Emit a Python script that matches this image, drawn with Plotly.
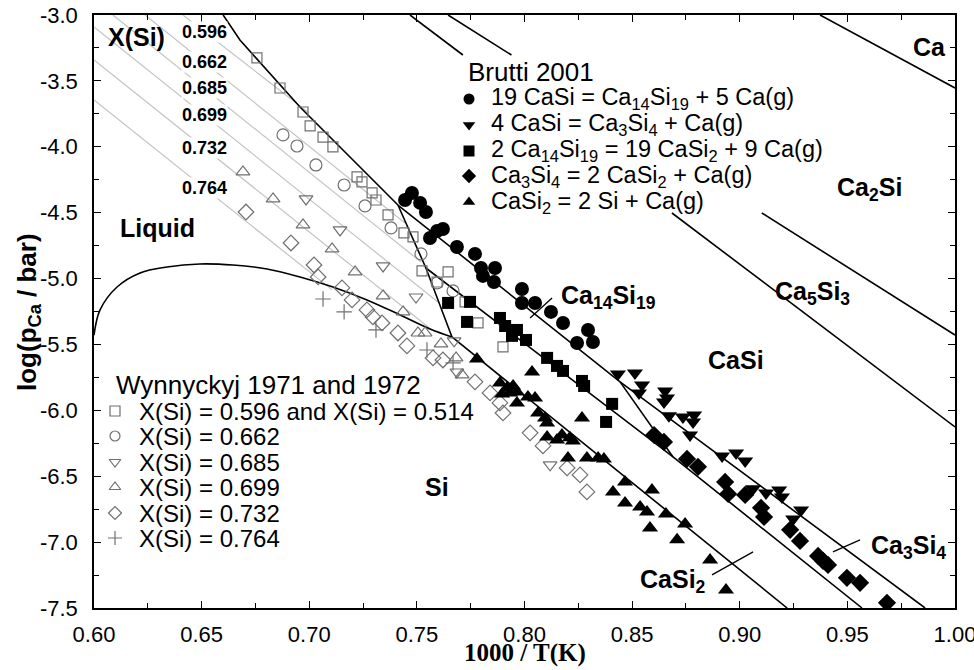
import plotly.graph_objects as go

# ---------------- data (1000/T, log p_Ca) ----------------
# Wynnyckyj 1971/1972 (open symbols)
w596_x = [0.6757,0.6864,0.6971,0.7004,0.7064,0.7110,0.7222,0.7245,0.7292,0.7310,0.7366,0.7440,0.7482,0.7524,0.7645,0.7594,0.7724,0.7784,0.7900]
w596_y = [-3.326,-3.554,-3.736,-3.842,-3.926,-4.001,-4.229,-4.267,-4.350,-4.404,-4.517,-4.654,-4.684,-4.942,-4.950,-5.026,-5.177,-5.337,-5.519]
w662_x = [0.6878,0.6943,0.7031,0.7162,0.7259,0.7380,0.7519,0.7594,0.7668]
w662_y = [-3.910,-3.994,-4.138,-4.290,-4.449,-4.616,-4.813,-5.033,-5.094]
w685_x = [0.6985,0.7143,0.7343,0.7496,0.7673,0.7686,0.8119]
w685_y = [-4.396,-4.631,-4.904,-5.140,-5.473,-5.709,-6.414]
w699_x = [0.6692,0.6832,0.6971,0.7106,0.7213,0.7343,0.7436,0.7505,0.7538,0.7612,0.7682,0.7710]
w699_y = [-4.191,-4.396,-4.593,-4.775,-4.950,-5.132,-5.253,-5.413,-5.413,-5.496,-5.602,-5.731]
w732_x = [0.6706,0.6915,0.7022,0.7041,0.7152,0.7199,0.7268,0.7296,0.7338,0.7412,0.7454,0.7575,0.7621,0.7770,0.7840,0.7886,0.7900,0.8026,0.8086,0.8198,0.8258,0.8290]
w732_y = [-4.495,-4.730,-4.897,-4.988,-5.071,-5.162,-5.238,-5.291,-5.337,-5.413,-5.511,-5.602,-5.618,-5.784,-5.868,-5.944,-6.020,-6.171,-6.270,-6.437,-6.490,-6.619]
w764_x = [0.7064,0.7162,0.7310,0.7547,0.7668]
w764_y = [-5.155,-5.253,-5.390,-5.542,-5.640]

# Brutti 2001 (filled symbols)
b1_x = [0.7445,0.7477,0.7515,0.7542,0.7561,0.7594,0.7621,0.7686,0.7770,0.7798,0.7807,0.7863,0.7858,0.7988,0.7988,0.8049,0.8123,0.8179,0.8244,0.8295,0.8318]
b1_y = [-4.404,-4.351,-4.426,-4.495,-4.692,-4.639,-4.624,-4.760,-4.813,-4.920,-4.980,-4.920,-5.026,-5.079,-5.185,-5.185,-5.253,-5.337,-5.489,-5.390,-5.481]
b2_x = [0.8434,0.8513,0.8546,0.8532,0.8653,0.8662,0.8648,0.8671,0.8736,0.8788,0.8783,0.8769,0.8918,0.8983,0.9025,0.9062,0.9122,0.9183,0.9196,0.9285,0.9248]
b2_y = [-5.724,-5.716,-5.807,-5.868,-5.853,-5.906,-5.936,-6.042,-6.050,-6.035,-6.088,-6.187,-6.346,-6.323,-6.384,-6.596,-6.627,-6.604,-6.657,-6.756,-6.824]
b3_x = [0.7645,0.7747,0.7733,0.7886,0.7910,0.7942,0.7965,0.8007,0.8105,0.8151,0.8179,0.8267,0.8277,0.8407,0.8379]
b3_y = [-5.185,-5.177,-5.329,-5.299,-5.360,-5.435,-5.390,-5.466,-5.602,-5.663,-5.701,-5.777,-5.815,-5.951,-6.088]
b4_x = [0.8602,0.8648,0.8755,0.8806,0.8932,0.8946,0.9025,0.9099,0.9113,0.9234,0.9280,0.9364,0.9387,0.9410,0.9498,0.9559,0.9684]
b4_y = [-6.187,-6.240,-6.369,-6.429,-6.543,-6.634,-6.642,-6.740,-6.809,-6.907,-6.991,-7.105,-7.142,-7.173,-7.271,-7.309,-7.461]
b5_x = [0.7779,0.8035,0.7886,0.7919,0.7947,0.7965,0.7933,0.7896,0.7965,0.8016,0.8049,0.8063,0.8095,0.8105,0.8267,0.8105,0.8151,0.8174,0.8211,0.8225,0.8202,0.8290,0.8342,0.8369,0.8467,0.8411,0.8592,0.8467,0.8537,0.8569,0.8657,0.8583,0.8746,0.8709,0.8862,0.8936]
b5_y = [-5.610,-5.709,-5.792,-5.830,-5.815,-5.860,-5.868,-5.876,-5.944,-5.898,-5.906,-6.020,-6.058,-6.096,-6.058,-6.202,-6.225,-6.187,-6.209,-6.232,-6.361,-6.361,-6.361,-6.369,-6.543,-6.619,-6.604,-6.703,-6.733,-6.771,-6.786,-6.892,-6.862,-6.983,-7.135,-7.363]

# calculated phase boundaries
liq_casi_x = [0.6600,0.6678,0.6957,0.7296,0.7412]
liq_casi_y = [-3.0,-3.190,-3.698,-4.252,-4.442]
liq_steep_x = [0.7412,0.7542,0.7663]
liq_steep_y = [-4.442,-4.920,-5.443]
liq_si_x = [0.6000,0.6028,0.6107,0.6214,0.6339,0.6492,0.6646,0.6804,0.6957,0.7110,0.7268,0.7422,0.7561,0.7663]
liq_si_y = [-5.430,-5.238,-5.064,-4.957,-4.912,-4.889,-4.897,-4.927,-4.988,-5.064,-5.162,-5.276,-5.382,-5.443]
upper_x = [0.7412,0.8444,0.9861]
upper_y = [-4.442,-5.784,-7.500]
middle_x = [0.7542,0.8690,0.9568]
middle_y = [-4.920,-6.354,-7.500]
step_x = [0.8444,0.8690]
step_y = [-5.784,-6.354]
lower_x = [0.7663,0.9220]
lower_y = [-5.443,-7.500]
ca_x = [0.9373,1.0]
ca_y = [-3.0,-3.554]
ca2si_x = [0.7645,1.0]
ca2si_y = [-3.0,-5.428]
ca5si3_x = [0.7468,1.0]
ca5si3_y = [-3.0,-6.126]

# iso-composition lines in the liquid
iso_labels = ["0.596","0.662","0.685","0.699","0.732","0.764"]
iso_x0 = [0.6413,0.6237,0.6088,0.6000,0.6000,0.6000]
iso_y0 = [-3.000,-3.000,-3.000,-3.091,-3.341,-3.645]
iso_x1 = [0.6999,0.7445,0.7519,0.7598,0.7570,0.7106]
iso_y1 = [-3.744,-4.578,-4.874,-5.178,-5.390,-5.086]

x_ticks = [0.60,0.65,0.70,0.75,0.80,0.85,0.90,0.95,1.00]
x_ticktext = ["0.60","0.65","0.70","0.75","0.80","0.85","0.90","0.95","1.00"]
y_ticks = [-3.0,-3.5,-4.0,-4.5,-5.0,-5.5,-6.0,-6.5,-7.0,-7.5]
y_ticktext = ["-3.0","-3.5","-4.0","-4.5","-5.0","-5.5","-6.0","-6.5","-7.0","-7.5"]

# ---------------- layout helpers ----------------
W, H = 974, 670
ML, MR, MT, MB = 94, 19, 15, 62
PW, PH = W - ML - MR, H - MT - MB

def pxx(x):
    return (x - ML) / PW

def pxy(y):
    return (H - MB - y) / PH

SANS = "Liberation Sans, Arial, sans-serif"
SERIF = "Liberation Serif, Times New Roman, serif"
GRAY = "#707070"

fig = go.Figure()

# iso lines
for lab_, a, b, c, d in zip(iso_labels, iso_x0, iso_y0, iso_x1, iso_y1):
    fig.add_trace(go.Scatter(x=[a, c], y=[b, d], mode="lines",
                             line=dict(color="#c4c4c4", width=1.2),
                             showlegend=False, hoverinfo="skip"))

# the Brutti legend box hides the middle of two lines (pixel rows of its top/bottom)
BOX_TOP, BOX_BOT = 55, 213

def y_of_px(p):
    return -3.0 - (p - MT) / PH * 4.5

def split_line(xs, ys):
    (x0, x1), (y0, y1) = xs, ys
    out_x, out_y = [x0], [y0]
    for p in (BOX_TOP, BOX_BOT):
        yy = y_of_px(p)
        xx = x0 + (yy - y0) / (y1 - y0) * (x1 - x0)
        out_x.append(xx)
        out_y.append(yy)
        if p == BOX_TOP:
            out_x.append(None)
            out_y.append(None)
    out_x.append(x1)
    out_y.append(y1)
    return out_x, out_y

bl = dict(color="black", width=1.6)
for xs, ys in [(liq_casi_x, liq_casi_y), (liq_steep_x, liq_steep_y),
               (upper_x, upper_y), (middle_x, middle_y), (step_x, step_y),
               (lower_x, lower_y), (ca_x, ca_y)]:
    fig.add_trace(go.Scatter(x=xs, y=ys, mode="lines", line=bl,
                             showlegend=False, hoverinfo="skip"))
fig.add_trace(go.Scatter(x=liq_si_x, y=liq_si_y, mode="lines",
                         line=dict(color="black", width=1.6, shape="spline", smoothing=1.0),
                         showlegend=False, hoverinfo="skip"))
for xs, ys in [(ca2si_x, ca2si_y), (ca5si3_x, ca5si3_y)]:
    sx, sy = split_line(xs, ys)
    fig.add_trace(go.Scatter(x=sx, y=sy, mode="lines", line=bl,
                             showlegend=False, hoverinfo="skip"))

open_series = [
    (w596_x, w596_y, "square-open", 10, "X(Si) = 0.596 and X(Si) = 0.514"),
    (w662_x, w662_y, "circle-open", 12, "X(Si) = 0.662"),
    (w685_x, w685_y, "triangle-down-open", 12, "X(Si) = 0.685"),
    (w699_x, w699_y, "triangle-up-open", 12, "X(Si) = 0.699"),
    (w732_x, w732_y, "diamond-open", 12, "X(Si) = 0.732"),
    (w764_x, w764_y, "cross-thin-open", 11, "X(Si) = 0.764"),
]
filled_series = [
    (b1_x, b1_y, "circle", 14, "19 CaSi = Ca<sub>14</sub>Si<sub>19</sub> + 5 Ca(g)"),
    (b2_x, b2_y, "triangle-down", 14, "4 CaSi = Ca<sub>3</sub>Si<sub>4</sub> + Ca(g)"),
    (b3_x, b3_y, "square", 12, "2 Ca<sub>14</sub>Si<sub>19</sub> = 19 CaSi<sub>2</sub> + 9 Ca(g)"),
    (b4_x, b4_y, "diamond", 14, "Ca<sub>3</sub>Si<sub>4</sub> = 2 CaSi<sub>2</sub> + Ca(g)"),
    (b5_x, b5_y, "triangle-up", 14, "CaSi<sub>2</sub> = 2 Si + Ca(g)"),
]

for xs, ys, sym, sz, name in open_series:
    fig.add_trace(go.Scatter(x=xs, y=ys, mode="markers", name=name,
                             marker=dict(symbol=sym, size=sz, color=GRAY,
                                         line=dict(color=GRAY, width=1.2)),
                             showlegend=False))
for xs, ys, sym, sz, name in filled_series:
    fig.add_trace(go.Scatter(x=xs, y=ys, mode="markers", name=name,
                             marker=dict(symbol=sym, size=sz, color="black",
                                         line=dict(width=0)),
                             showlegend=False))

# ---- hand-made legends (symbols on an overlay axis in plot-fraction units) ----
ann = []
leg1_rows = [99, 125, 151, 176, 202]
for (xs, ys, sym, sz, name), r in zip(filled_series, leg1_rows):
    fig.add_trace(go.Scatter(x=[pxx(469)], y=[pxy(r)], mode="markers", xaxis="x2", yaxis="y2",
                             marker=dict(symbol=sym, size=11, color="black", line=dict(width=0)),
                             showlegend=False, hoverinfo="skip"))
    ann.append(dict(x=pxx(489), y=pxy(r), text=name, xanchor="left", yanchor="middle",
                    font=dict(size=23.5, family=SANS, color="black")))
ann.append(dict(x=pxx(466), y=pxy(72), text="Brutti 2001", xanchor="left", yanchor="middle",
                font=dict(size=26, family=SANS, color="black")))

leg2_rows = [411, 436, 462, 487, 513, 538]
for (xs, ys, sym, sz, name), r in zip(open_series, leg2_rows):
    fig.add_trace(go.Scatter(x=[pxx(115)], y=[pxy(r)], mode="markers", xaxis="x2", yaxis="y2",
                             marker=dict(symbol=sym, size=10, color=GRAY, line=dict(color=GRAY, width=1.2)),
                             showlegend=False, hoverinfo="skip"))
    ann.append(dict(x=pxx(137), y=pxy(r), text=name, xanchor="left", yanchor="middle",
                    font=dict(size=24, family=SANS, color="black")))
ann.append(dict(x=pxx(114), y=pxy(385), text="Wynnyckyj 1971 and 1972", xanchor="left", yanchor="middle",
                font=dict(size=26, family=SANS, color="black")))

# region labels
def lab(text, x, y, size=25):
    ann.append(dict(x=pxx(x), y=pxy(y), text="<b>" + text + "</b>", xanchor="center", yanchor="middle",
                    font=dict(size=size, family=SANS, color="black")))

lab("X(Si)", 136, 37)
lab("Liquid", 157, 228)
lab("Si", 437, 487)
lab("CaSi", 736, 360)
lab("Ca<sub>14</sub>Si<sub>19</sub>", 608, 297)
lab("Ca<sub>3</sub>Si<sub>4</sub>", 908, 547)
lab("CaSi<sub>2</sub>", 673, 581)
lab("Ca<sub>5</sub>Si<sub>3</sub>", 812, 293)
lab("Ca<sub>2</sub>Si", 869, 189)
lab("Ca", 929, 47)

iso_label_rows = [32, 62, 88, 115, 148, 188]
for t, r in zip(iso_labels, iso_label_rows):
    ann.append(dict(x=pxx(204), y=pxy(r), text="<b>" + t + "</b>", xanchor="center", yanchor="middle",
                    bgcolor="white", borderpad=0,
                    font=dict(size=18, family=SANS, color="black")))

# axis titles
ann.append(dict(x=pxx(28), y=pxy(312), text="<b>log(p<sub>Ca</sub> / bar)</b>", textangle=-90,
                xanchor="center", yanchor="middle", font=dict(size=26, family=SANS, color="black")))
ann.append(dict(x=pxx(525), y=pxy(669), text="<b>1000 / T(K)</b>", xanchor="center", yanchor="bottom",
                font=dict(size=25, family=SERIF, color="black")))

for a in ann:
    a.update(xref="paper", yref="paper", showarrow=False)

# pointer ticks for the narrow phase fields
shapes = []
for (x0, y0, x1, y1) in [(0.8026, -5.299, 0.8128, -5.147),
                         (0.9433, -7.074, 0.9559, -6.983),
                         (0.8871, -7.249, 0.9062, -7.074)]:
    shapes.append(dict(type="line", xref="x", yref="y", x0=x0, y0=y0, x1=x1, y1=y1,
                       line=dict(color="black", width=1.3)))

axis_common = dict(showline=True, linecolor="black", linewidth=1.6, mirror="ticks",
                   ticks="inside", ticklen=7, tickwidth=1.3, tickcolor="black",
                   showgrid=False, zeroline=False, automargin=False,
                   ticklabeloverflow="allow",
                   tickfont=dict(size=22, family=SANS, color="black"))

fig.update_layout(
    width=W, height=H,
    margin=dict(l=ML, r=MR, t=MT, b=MB, pad=0, autoexpand=False),
    paper_bgcolor="white", plot_bgcolor="white",
    showlegend=False,
    xaxis=dict(range=[0.6, 1.0], tickvals=x_ticks, ticktext=x_ticktext,
               minor=dict(dtick=0.025, ticks="inside", ticklen=5, tickcolor="black", tickwidth=1.2),
               ticklabelstandoff=6, **axis_common),
    yaxis=dict(range=[-7.5, -3.0], tickvals=y_ticks, ticktext=y_ticktext,
               minor=dict(dtick=0.25, ticks="inside", ticklen=5, tickcolor="black", tickwidth=1.2),
               ticklabelstandoff=10, **axis_common),
    xaxis2=dict(overlaying="x", range=[0, 1], visible=False),
    yaxis2=dict(overlaying="y", range=[0, 1], visible=False),
    annotations=ann,
    shapes=shapes,
)

fig.write_html("out.html")
